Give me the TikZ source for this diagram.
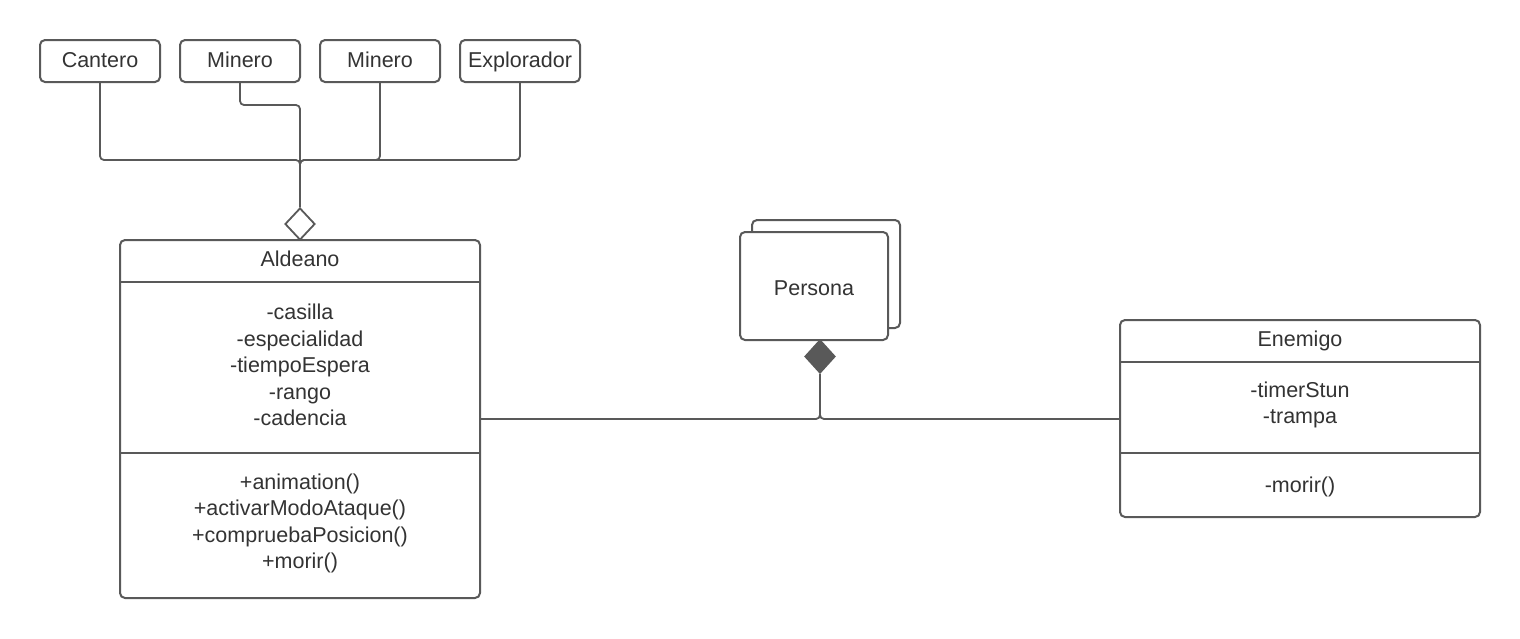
\documentclass[tikz,border=0pt]{standalone}
\usepackage{fontspec}
\setmainfont{Liberation Sans}
\usetikzlibrary{shapes.geometric}
\definecolor{ln}{HTML}{595959}
\definecolor{tx}{HTML}{333333}
\begin{document}
\begin{tikzpicture}[x=1pt,y=-1pt,
  box/.style={draw=ln,line width=2pt,rounded corners=5pt,fill=white,inner sep=0pt},
  lbl/.style={text=tx,font=\fontsize{21.5}{26.5}\selectfont,align=center,inner sep=0pt,anchor=base},
  mlbl/.style={text=tx,font=\fontsize{21.5}{26.5}\selectfont,align=center,inner sep=0pt},
  conn/.style={draw=ln,line width=1.8pt,rounded corners=4pt},
  sep/.style={draw=ln,line width=2pt}]
\useasboundingbox (0,0) rectangle (1520,638);
% top boxes
\node[box,minimum width=120pt,minimum height=42pt] (cant) at (100,61) {};
\node[lbl] at (100,67) {Cantero};
\node[box,minimum width=120pt,minimum height=42pt] (min1) at (240,61) {};
\node[lbl] at (240,67) {Minero};
\node[box,minimum width=120pt,minimum height=42pt] (min2) at (380,61) {};
\node[lbl] at (380,67) {Minero};
\node[box,minimum width=120pt,minimum height=42pt] (expl) at (520,61) {};
\node[lbl] at (520,67) {Explorador};
% aggregation diamond
\node[draw=ln,line width=1.8pt,fill=white,diamond,minimum width=30pt,minimum height=32pt,inner sep=0pt] (agg) at (300,224) {};
\coordinate (j) at (300,160);
\draw[conn] (cant.south) |- (j) -- (agg.north);
\draw[conn] (expl.south) |- (j) -- (agg.north);
\draw[conn] (min2.south) |- (j) -- (agg.north);
\draw[conn] (min1.south) -- ++(0,22) -| (agg.north);
% Aldeano
\node[box,minimum width=360pt,minimum height=358pt] (ald) at (300,419) {};
\draw[sep] (120,282) coordinate (a1) -- (480,282) coordinate (a2);
\draw[sep] (120,453) coordinate (a3) -- (480,453) coordinate (a4);
\node[lbl] (aldt) at (300,266) {Aldeano};
\node[mlbl] (alda) at (300,365) {-casilla\\-especialidad\\-tiempoEspera\\-rango\\-cadencia};
\node[mlbl] (aldm) at (300,523.5) {+animation()\\+activarModoAtaque()\\+compruebaPosicion()\\+morir()};
% Persona
\node[box,minimum width=148pt,minimum height=108pt] (perb) at (826,274) {};
\node[box,minimum width=148pt,minimum height=108pt] (per) at (814,286) {};
\node[lbl] at (814,295) {Persona};
\node[draw=ln,line width=1.8pt,fill=ln,diamond,minimum width=30pt,minimum height=33pt,inner sep=0pt] (comp) at (820,356.5) {};
% Enemigo
\node[box,minimum width=360pt,minimum height=197pt] (ene) at (1300,418.5) {};
\draw[sep] (1120,362) coordinate (e1) -- (1480,362) coordinate (e2);
\draw[sep] (1120,453) coordinate (e3) -- (1480,453) coordinate (e4);
\node[lbl] (enet) at (1300,346) {Enemigo};
\node[mlbl] (enea) at (1300,405) {-timerStun\\-trampa};
\node[lbl] (enem) at (1300,492) {-morir()};
% association
\coordinate (k) at (820,419);
\draw[conn] (ald.east |- k) -| (comp.south);
\draw[conn] (ene.west |- k) -| (comp.south);
\end{tikzpicture}
\end{document}
